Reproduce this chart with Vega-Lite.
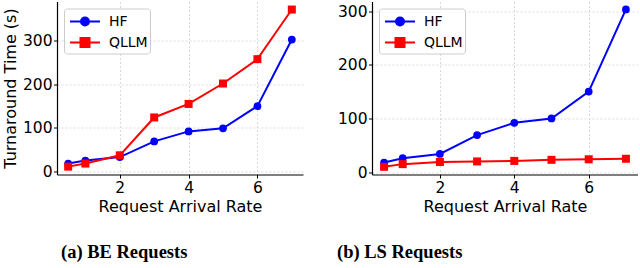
{
  "$schema": "https://vega.github.io/schema/vega-lite/v6.json",
  "padding": {"left": 2, "top": 1.5, "right": 0, "bottom": 0},
  "background": "white",
  "spacing": 34,
  "datasets": {
    "be": [
      {"system": "HF", "rate": 0.5, "time": 18},
      {"system": "HF", "rate": 1, "time": 25},
      {"system": "HF", "rate": 2, "time": 33},
      {"system": "HF", "rate": 3, "time": 69},
      {"system": "HF", "rate": 4, "time": 92},
      {"system": "HF", "rate": 5, "time": 99},
      {"system": "HF", "rate": 6, "time": 150},
      {"system": "HF", "rate": 7, "time": 303},
      {"system": "QLLM", "rate": 0.5, "time": 11},
      {"system": "QLLM", "rate": 1, "time": 18},
      {"system": "QLLM", "rate": 2, "time": 37},
      {"system": "QLLM", "rate": 3, "time": 124},
      {"system": "QLLM", "rate": 4, "time": 155},
      {"system": "QLLM", "rate": 5, "time": 202},
      {"system": "QLLM", "rate": 6, "time": 258},
      {"system": "QLLM", "rate": 7, "time": 372}
    ],
    "ls": [
      {"system": "HF", "rate": 0.5, "time": 18},
      {"system": "HF", "rate": 1, "time": 26},
      {"system": "HF", "rate": 2, "time": 34},
      {"system": "HF", "rate": 3, "time": 69},
      {"system": "HF", "rate": 4, "time": 92},
      {"system": "HF", "rate": 5, "time": 100},
      {"system": "HF", "rate": 6, "time": 150},
      {"system": "HF", "rate": 7, "time": 303},
      {"system": "QLLM", "rate": 0.5, "time": 10},
      {"system": "QLLM", "rate": 1, "time": 15},
      {"system": "QLLM", "rate": 2, "time": 19},
      {"system": "QLLM", "rate": 3, "time": 20},
      {"system": "QLLM", "rate": 4, "time": 21},
      {"system": "QLLM", "rate": 5, "time": 23},
      {"system": "QLLM", "rate": 6, "time": 24},
      {"system": "QLLM", "rate": 7, "time": 25}
    ]
  },
  "config": {
    "font": "DejaVu Sans",
    "view": {"stroke": null},
    "axis": {
      "domainColor": "black",
      "domainWidth": 1.2,
      "tickColor": "black",
      "tickSize": 3.5,
      "tickWidth": 1,
      "labelFont": "DejaVu Sans",
      "labelFontSize": 15.5,
      "labelColor": "black",
      "titleFont": "DejaVu Sans",
      "titleFontSize": 16,
      "titleFontWeight": "normal",
      "titleColor": "black",
      "gridColor": "#d0d0d0",
      "gridDash": [2, 2],
      "gridWidth": 0.8
    }
  },
  "resolve": {
    "scale": {"color": "independent", "x": "independent", "y": "independent"},
    "legend": {"color": "independent"}
  },
  "hconcat": [
    {
      "width": 246,
      "height": 173,
      "data": {"name": "be"},
      "title": {"text": "(a) BE Requests", "orient": "bottom", "anchor": "start", "frame": "group", "dx": 4, "offset": 28, "font": "Liberation Serif", "fontSize": 18.5, "fontWeight": "bold", "color": "black"},
      "layer": [
        {
          "mark": {"type": "line", "strokeWidth": 2},
          "encoding": {
            "x": {"field": "rate", "type": "quantitative", "scale": {"domain": [0.175, 7.325], "nice": false, "zero": false},
                  "axis": {"values": [2, 4, 6], "title": "Request Arrival Rate", "titlePadding": 3, "labelPadding": 2}},
            "y": {"field": "time", "type": "quantitative", "scale": {"domain": [-7.1, 390.5], "nice": false, "zero": false},
                  "axis": {"values": [0, 100, 200, 300], "title": "Turnaround Time (s)", "titlePadding": 4, "labelPadding": 1.5}},
            "color": {"field": "system", "type": "nominal", "scale": {"domain": ["HF", "QLLM"], "range": ["#0000ff", "#ff0000"]},
              "legend": {
                "title": null, "orient": "top-left", "offset": 7, "padding": 2,
                "fillColor": "rgba(255,255,255,0.85)", "strokeColor": "#cccccc", "cornerRadius": 3,
                "labelFont": "DejaVu Sans", "labelFontSize": 14, "labelColor": "black",
                "symbolSize": 400, "symbolStrokeWidth": 2, "symbolOffset": 8, "labelOffset": 13, "rowPadding": 2,
                "encode": {"symbols": {"update": {
                  "shape": {"signal": "datum.value === 'HF' ? 'M-1.5,0H1.5M-0.4,0A0.4,0.4 0 1,0 0.4,0A0.4,0.4 0 1,0 -0.4,0Z' : 'M-1.5,0H1.5M-0.45,-0.45H0.45V0.45H-0.45Z'"},
                  "fill": {"signal": "datum.value === 'HF' ? '#0000ff' : '#ff0000'"},
                  "stroke": {"signal": "datum.value === 'HF' ? '#0000ff' : '#ff0000'"},
                  "strokeWidth": {"value": 2},
                  "size": {"value": 400},
                  "opacity": {"value": 1}
                }}}
              }}
          }
        },
        {
          "transform": [{"filter": "datum.system === 'HF'"}],
          "mark": {"type": "point", "filled": true, "opacity": 1, "size": 60, "shape": "circle", "color": "#0000ff"},
          "encoding": {
            "x": {"field": "rate", "type": "quantitative"},
            "y": {"field": "time", "type": "quantitative"}
          }
        },
        {
          "transform": [{"filter": "datum.system === 'QLLM'"}],
          "mark": {"type": "point", "filled": true, "opacity": 1, "size": 64, "shape": "square", "color": "#ff0000"},
          "encoding": {
            "x": {"field": "rate", "type": "quantitative"},
            "y": {"field": "time", "type": "quantitative"}
          }
        }
      ]
    },
    {
      "width": 266,
      "height": 173,
      "data": {"name": "ls"},
      "title": {"text": "(b) LS Requests", "orient": "bottom", "anchor": "start", "frame": "group", "dx": -35, "offset": 28, "font": "Liberation Serif", "fontSize": 18.5, "fontWeight": "bold", "color": "black"},
      "layer": [
        {
          "mark": {"type": "line", "strokeWidth": 2},
          "encoding": {
            "x": {"field": "rate", "type": "quantitative", "scale": {"domain": [0.175, 7.325], "nice": false, "zero": false},
                  "axis": {"values": [2, 4, 6], "title": "Request Arrival Rate", "titlePadding": 3, "labelPadding": 2}},
            "y": {"field": "time", "type": "quantitative", "scale": {"domain": [-4.3, 317.7], "nice": false, "zero": false},
                  "axis": {"values": [0, 100, 200, 300], "title": null, "labelPadding": 1.5}},
            "color": {"field": "system", "type": "nominal", "scale": {"domain": ["HF", "QLLM"], "range": ["#0000ff", "#ff0000"]},
              "legend": {
                "title": null, "orient": "top-left", "offset": 7, "padding": 2,
                "fillColor": "rgba(255,255,255,0.85)", "strokeColor": "#cccccc", "cornerRadius": 3,
                "labelFont": "DejaVu Sans", "labelFontSize": 14, "labelColor": "black",
                "symbolSize": 400, "symbolStrokeWidth": 2, "symbolOffset": 8, "labelOffset": 13, "rowPadding": 2,
                "encode": {"symbols": {"update": {
                  "shape": {"signal": "datum.value === 'HF' ? 'M-1.5,0H1.5M-0.4,0A0.4,0.4 0 1,0 0.4,0A0.4,0.4 0 1,0 -0.4,0Z' : 'M-1.5,0H1.5M-0.45,-0.45H0.45V0.45H-0.45Z'"},
                  "fill": {"signal": "datum.value === 'HF' ? '#0000ff' : '#ff0000'"},
                  "stroke": {"signal": "datum.value === 'HF' ? '#0000ff' : '#ff0000'"},
                  "strokeWidth": {"value": 2},
                  "size": {"value": 400},
                  "opacity": {"value": 1}
                }}}
              }}
          }
        },
        {
          "transform": [{"filter": "datum.system === 'HF'"}],
          "mark": {"type": "point", "filled": true, "opacity": 1, "size": 60, "shape": "circle", "color": "#0000ff"},
          "encoding": {
            "x": {"field": "rate", "type": "quantitative"},
            "y": {"field": "time", "type": "quantitative"}
          }
        },
        {
          "transform": [{"filter": "datum.system === 'QLLM'"}],
          "mark": {"type": "point", "filled": true, "opacity": 1, "size": 64, "shape": "square", "color": "#ff0000"},
          "encoding": {
            "x": {"field": "rate", "type": "quantitative"},
            "y": {"field": "time", "type": "quantitative"}
          }
        }
      ]
    }
  ]
}
